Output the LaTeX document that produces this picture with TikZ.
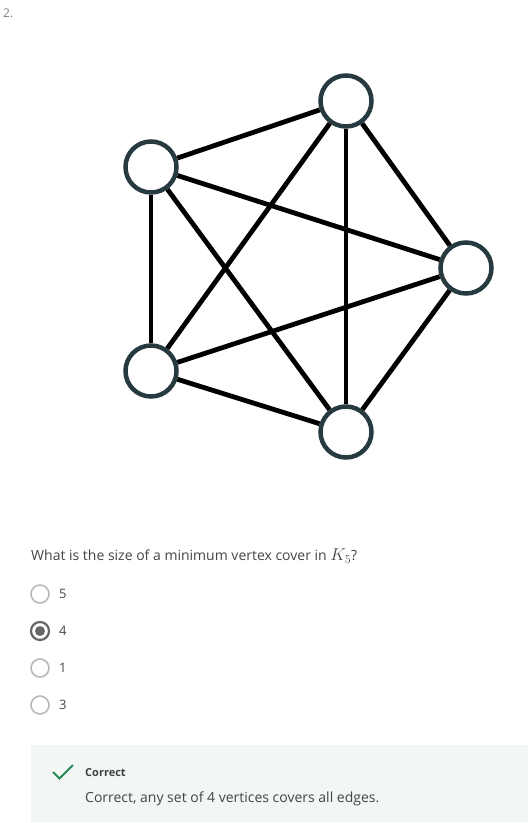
\documentclass[tikz,border=0pt]{standalone}
\usepackage{fontspec}
\setmainfont{Open Sans}
\usepackage{tikz}
\usetikzlibrary{positioning}

\definecolor{rim}{HTML}{263A3F}
\definecolor{txt}{HTML}{444444}
\definecolor{boxbg}{HTML}{F2F7F5}
\definecolor{okgreen}{HTML}{2A8A56}

\begin{document}
\begin{tikzpicture}[x=1pt,y=-1pt]

\tikzstyle{vertex}=[circle,draw=rim,line width=4.5pt,fill=white,minimum size=51pt,inner sep=0pt]
\tikzstyle{edge}=[line width=4.8pt,black]
\tikzstyle{radio}=[circle,draw=black!28,line width=1.6pt,minimum size=18pt,inner sep=0pt]
\tikzstyle{answer}=[anchor=west,inner sep=0pt,font=\fontsize{13}{15}\selectfont,text=txt]

\useasboundingbox (0,0) rectangle (528,823);

\node[anchor=west,inner sep=0pt,text=black!50,font=\fontsize{12}{14}\selectfont] (num) at (3,13) {2.};

% the graph K5
\node[vertex] (A) at (346,101) {};
\node[vertex] (B) at (151,167) {};
\node[vertex] (C) at (466,268) {};
\node[vertex] (D) at (151,371) {};
\node[vertex] (E) at (346,432) {};

\draw[edge] (A) -- (B);
\draw[edge] (A) -- (C);
\draw[edge] (A) -- (D);
\draw[edge] (A) -- (E);
\draw[edge] (B) -- (C);
\draw[edge] (B) -- (D);
\draw[edge] (B) -- (E);
\draw[edge] (C) -- (D);
\draw[edge] (C) -- (E);
\draw[edge] (D) -- (E);

\node[anchor=west,inner sep=0pt,text=txt,font=\fontsize{14}{16}\selectfont] (q) at (31,556)
  {What is the size of a minimum vertex cover in {\fontsize{16.5}{18}\selectfont$K_5$}?};

% options
\node[radio] (r1) at (40,594) {};
\node[radio,draw=black!60,line width=2.2pt] (r2) at (40,631) {};
\node[circle,fill=black!60,minimum size=10pt,inner sep=0pt] (dot) at (r2) {};
\node[radio] (r3) at (40,668) {};
\node[radio] (r4) at (40,705) {};

\node[answer] (a1) at (59,594) {5};
\node[answer] (a2) at (59,631) {4};
\node[answer] (a3) at (59,668) {1};
\node[answer] (a4) at (59,705) {3};

% feedback
\fill[boxbg] (31,745) rectangle (528,822);
\coordinate (t1) at (53,772);
\coordinate (t2) at (59.5,778.5);
\coordinate (t3) at (73,765);
\draw[okgreen,line width=2pt] (t1) -- (t2) -- (t3);
\node[anchor=west,inner sep=0pt,text=black!75,font=\fontsize{11}{13}\selectfont\bfseries] (ok) at (85,773) {Correct};
\node[anchor=west,inner sep=0pt,text=txt,font=\fontsize{14}{16}\selectfont] (why) at (85,799)
  {Correct, any set of 4 vertices covers all edges.};

\end{tikzpicture}
\end{document}
